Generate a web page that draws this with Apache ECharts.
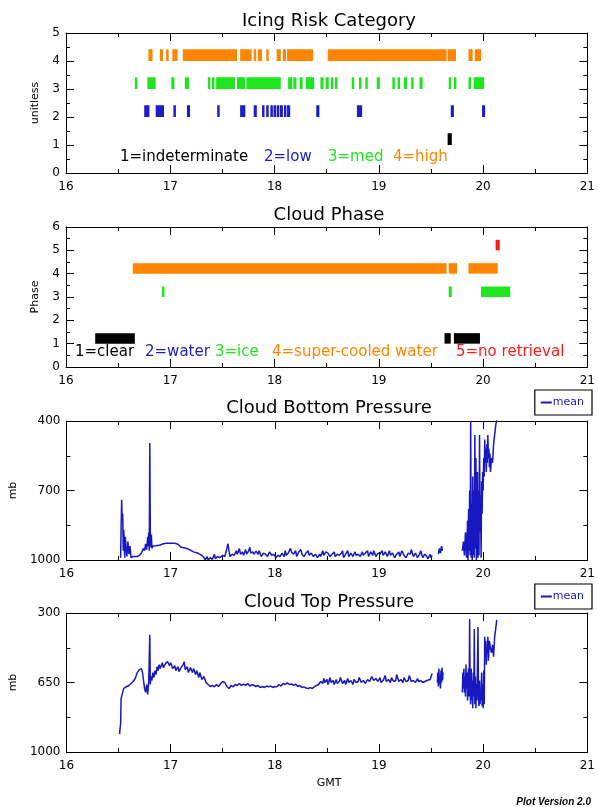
<!DOCTYPE html>
<html><head><meta charset="utf-8">
<script src="https://cdn.jsdelivr.net/npm/echarts@6/dist/echarts.min.js"></script>
<style>html,body{margin:0;padding:0;background:#fff}#c{width:598px;height:807px}</style>
</head><body><div id="c"></div>
<script>
// ---------- DATA ----------
const timeRange = [16, 21];
const riskLevels = [1, 2, 3, 4];
const riskIndeterminate = [[19.66,19.70]];
const riskLow = [[16.75,16.80],[16.86,16.94],[17.03,17.05],[17.16,17.19],[17.45,17.47],[17.67,17.72],[17.80,17.83],
  [17.88,17.90],[17.92,17.94],[17.96,17.98],[17.99,18.01],[18.02,18.04],[18.05,18.08],[18.09,18.11],[18.12,18.15],
  [18.40,18.43],[18.79,18.84],[19.69,19.72],[19.99,20.02]];
const riskMed = [[16.66,16.68],[16.78,16.86],[17.01,17.04],[17.14,17.18],[17.36,17.38],[17.40,17.42],[17.44,17.62],
  [17.64,17.72],[17.73,18.06],[18.13,18.17],[18.18,18.21],[18.24,18.27],[18.30,18.38],[18.44,18.47],[18.49,18.52],
  [18.54,18.56],[18.58,18.60],[18.74,18.76],[18.81,18.83],[18.87,18.89],[18.98,19.01],[19.13,19.15],[19.18,19.20],
  [19.24,19.27],[19.31,19.33],[19.39,19.42],[19.67,19.69],[19.72,19.74],[19.86,19.88],[19.91,20.01]];
const riskHigh = [[16.79,16.83],[16.90,16.93],[16.96,16.98],[17.02,17.07],[17.12,17.64],[17.67,17.78],[17.80,17.82],
  [17.84,17.88],[17.92,17.94],[18.02,18.06],[18.08,18.11],[18.12,18.37],[18.51,19.65],[19.66,19.74],[19.86,19.90],[19.92,19.98]];
const riskLegend = [
  {text: '1=indeterminate', x: 120, color: 'black'},
  {text: '2=low', x: 264, color: 'blue'},
  {text: '3=med', x: 328, color: 'green'},
  {text: '4=high', x: 393, color: 'orange'}
];

const phaseClear = [[16.28,16.66],[19.63,19.69],[19.72,19.97]];
const phaseWater = [];
const phaseIce = [[16.92,16.94],[19.67,19.70],[19.98,20.26]];
const phaseSupercooled = [[16.64,19.65],[19.67,19.75],[19.86,20.14]];
const phaseNoRetrieval = [[20.12,20.16]];
const phaseLegend = [
  {text: '1=clear', x: 75, color: 'black'},
  {text: '2=water', x: 145, color: 'blue'},
  {text: '3=ice', x: 215, color: 'green'},
  {text: '4=super-cooled water', x: 272, color: 'orange'},
  {text: '5=no retrieval', x: 456, color: 'red'}
];

const bottomPressure = [
 [16.52,990],[16.525,860],[16.53,740],[16.535,830],[16.54,800],[16.545,960],[16.55,870],[16.56,990],[16.565,900],[16.57,930],
 [16.58,985],[16.59,920],[16.60,975],[16.61,940],[16.62,990],[16.64,985],[16.66,985],[16.68,985],[16.70,980],[16.72,970],
 [16.74,950],[16.75,960],[16.76,930],[16.77,955],[16.78,900],[16.785,940],[16.79,880],[16.795,960],[16.80,495],[16.805,880],
 [16.81,945],[16.815,890],[16.82,950],[16.83,940],[16.86,938],[16.90,935],[16.93,930],[16.96,928],[17.00,928],[17.04,928],
 [17.07,932],[17.10,945],[17.14,948],[17.18,955],[17.22,965],[17.26,970],[17.30,980],[17.32,990],[17.33,1000],[17.35,985],
 [17.36,1000],[17.38,990],[17.40,998],[17.42,975],[17.43,995],[17.45,985],[17.47,990],[17.50,980],[17.52,985],[17.54,950],
 [17.55,930],[17.56,960],[17.57,985],[17.59,975],[17.61,980],[17.63,960],[17.64,975],[17.66,950],[17.67,975],[17.69,965],
 [17.70,980],[17.72,955],[17.73,975],[17.75,960],[17.76,945],[17.77,970],[17.79,965],[17.80,975],[17.82,962],[17.84,975],
 [17.85,960],[17.87,985],[17.89,970],[17.91,975],[17.93,985],[17.95,965],[17.97,980],[17.99,975],[18.01,990],[18.03,980],
 [18.05,985],[18.07,970],[18.09,985],[18.10,960],[18.11,980],[18.13,970],[18.15,950],[18.16,965],[18.18,975],[18.20,960],
 [18.21,985],[18.23,965],[18.25,955],[18.26,975],[18.28,985],[18.30,970],[18.32,960],[18.33,980],[18.35,970],[18.37,985],
 [18.39,975],[18.41,990],[18.43,975],[18.44,985],[18.46,960],[18.47,980],[18.49,965],[18.51,970],[18.53,985],[18.55,975],
 [18.57,965],[18.58,985],[18.60,975],[18.62,980],[18.64,970],[18.65,960],[18.66,990],[18.68,975],[18.70,960],[18.71,985],
 [18.73,970],[18.75,985],[18.77,965],[18.78,980],[18.80,975],[18.82,985],[18.84,965],[18.85,980],[18.87,970],[18.89,960],
 [18.90,985],[18.92,965],[18.94,980],[18.95,960],[18.97,985],[18.99,970],[19.01,975],[19.03,960],[19.04,980],[19.06,965],
 [19.08,985],[19.10,960],[19.11,980],[19.13,970],[19.15,990],[19.17,975],[19.19,965],[19.20,985],[19.22,960],[19.24,980],
 [19.26,990],[19.28,970],[19.30,975],[19.31,955],[19.33,985],[19.35,970],[19.37,990],[19.39,975],[19.40,960],[19.42,990],
 [19.44,975],[19.46,985],[19.47,995],[19.49,975],[19.50,990],[19.51,980],[19.54,null],
 [19.57,975],[19.58,950],[19.59,970],[19.60,940],[19.61,960],[19.70,null],
 [19.80,960],[19.81,920],[19.82,980],[19.83,880],[19.84,990],[19.85,830],[19.855,1000],[19.86,780],[19.865,960],[19.87,700],
 [19.875,980],[19.88,400],[19.885,990],[19.89,760],[19.895,1000],[19.90,640],[19.905,980],[19.91,700],[19.915,990],[19.92,460],
 [19.925,950],[19.93,560],[19.935,1000],[19.94,900],[19.945,620],[19.95,990],[19.955,700],[19.96,980],[19.965,460],[19.97,880],
 [19.975,720],[19.98,990],[19.985,660],[19.99,800],[19.995,620],[20.00,700],[20.005,560],[20.01,640],[20.015,480],[20.02,580],
 [20.025,520],[20.03,620],[20.035,500],[20.04,580],[20.045,460],[20.05,560],[20.055,520],[20.06,600],[20.065,540],[20.07,620],
 [20.08,560],[20.09,580],[20.10,500],[20.11,460],[20.12,420],[20.13,390]
];

const topPressure = [
 [16.51,910],[16.515,880],[16.52,860],[16.525,730],[16.53,720],[16.54,700],[16.55,680],[16.56,690],[16.58,670],[16.60,665],
 [16.62,655],[16.64,645],[16.66,630],[16.68,600],[16.70,585],[16.72,580],[16.73,600],[16.74,640],[16.75,680],[16.76,700],
 [16.77,660],[16.78,710],[16.79,640],[16.80,410],[16.805,660],[16.81,620],[16.82,640],[16.83,600],[16.84,625],[16.85,590],
 [16.86,610],[16.87,570],[16.88,590],[16.89,560],[16.90,580],[16.92,550],[16.93,575],[16.95,555],[16.97,545],[16.99,565],
 [17.00,550],[17.02,580],[17.04,565],[17.05,590],[17.07,570],[17.08,595],[17.10,575],[17.12,560],[17.13,545],[17.14,585],
 [17.16,570],[17.17,600],[17.19,575],[17.21,600],[17.22,580],[17.24,610],[17.25,590],[17.27,625],[17.28,600],[17.30,635],
 [17.32,620],[17.34,650],[17.36,660],[17.38,670],[17.40,665],[17.42,672],[17.44,660],[17.46,670],[17.48,655],[17.50,645],
 [17.52,650],[17.54,670],[17.56,680],[17.58,665],[17.60,672],[17.62,660],[17.64,665],[17.66,655],[17.68,665],[17.70,658],
 [17.72,665],[17.74,655],[17.76,668],[17.78,660],[17.80,665],[17.82,670],[17.84,665],[17.86,675],[17.88,670],[17.90,675],
 [17.92,668],[17.94,672],[17.96,668],[17.98,675],[18.00,670],[18.02,672],[18.04,660],[18.06,668],[18.08,655],[18.10,660],
 [18.12,652],[18.14,660],[18.16,658],[18.18,665],[18.20,658],[18.22,670],[18.24,665],[18.26,675],[18.28,672],[18.30,678],
 [18.32,680],[18.34,676],[18.36,680],[18.38,672],[18.40,665],[18.42,660],[18.44,645],[18.46,655],[18.47,630],[18.48,650],
 [18.50,635],[18.51,660],[18.53,625],[18.54,650],[18.56,640],[18.57,660],[18.59,635],[18.60,655],[18.62,645],[18.63,625],
 [18.65,655],[18.67,640],[18.68,660],[18.70,630],[18.71,650],[18.73,640],[18.75,660],[18.76,635],[18.78,650],[18.80,645],
 [18.81,625],[18.83,650],[18.85,640],[18.87,655],[18.89,635],[18.91,645],[18.93,620],[18.95,640],[18.97,630],[18.99,645],
 [19.01,625],[19.02,650],[19.04,640],[19.06,615],[19.07,645],[19.09,635],[19.11,650],[19.12,625],[19.14,645],[19.16,640],
 [19.17,610],[19.19,645],[19.21,635],[19.23,650],[19.24,625],[19.26,645],[19.28,640],[19.29,615],[19.31,645],[19.33,640],
 [19.35,650],[19.37,630],[19.38,645],[19.40,640],[19.42,650],[19.44,645],[19.46,640],[19.47,650],[19.49,635],[19.50,620],
 [19.51,605],[19.54,null],
 [19.56,650],[19.565,600],[19.57,670],[19.575,580],[19.58,660],[19.585,620],[19.59,680],[19.595,590],[19.60,650],[19.605,575],
 [19.61,640],[19.615,600],[19.70,null],
 [19.80,700],[19.805,600],[19.81,680],[19.815,580],[19.82,700],[19.825,620],[19.83,720],[19.835,560],[19.84,680],[19.845,600],
 [19.85,740],[19.855,620],[19.86,580],[19.865,720],[19.87,330],[19.875,700],[19.88,760],[19.885,580],[19.89,740],[19.895,640],
 [19.90,780],[19.905,600],[19.91,720],[19.915,380],[19.92,760],[19.925,620],[19.93,780],[19.935,660],[19.94,740],[19.945,580],
 [19.95,370],[19.955,720],[19.96,770],[19.965,640],[19.97,760],[19.975,680],[19.98,740],[19.985,600],[19.99,770],[19.995,660],
 [20.00,780],[20.005,590],[20.01,760],[20.015,420],[20.02,520],[20.025,440],[20.03,560],[20.035,470],[20.04,500],[20.045,420],
 [20.05,540],[20.06,440],[20.07,480],[20.08,500],[20.09,460],[20.10,520],[20.11,420],[20.12,380],[20.13,335]
];

const bottomLabels = [400, 700, 1000];
const bottomMinorTicks = [550, 850];
const topLabels = [300, 650, 1000];
const topMinorTicks = [475, 825];

// ---------- STYLE ----------
const C = {black:'#000000', blue:'#1c1cc8', green:'#1ee61e', orange:'#ff8500', red:'#ff1a1a', line:'#1818c0'};
const FONT = 'DejaVu Sans';
const GL = 66, GW = 526;
const grids = [
  {left: GL, width: GW, top: 33, height: 140},
  {left: GL, width: GW, top: 227, height: 140},
  {left: GL, width: GW, top: 421, height: 139},
  {left: GL, width: GW, top: 613, height: 139}
];
const BLACK_LINE = {color: '#000', width: 1};

function xAxes(gi) {
  const base = {gridIndex: gi, type: 'value', min: timeRange[0], max: timeRange[1], interval: 1,
    axisLine: {show: true, onZero: false, lineStyle: BLACK_LINE},
    axisTick: {inside: true, length: 8, lineStyle: BLACK_LINE},
    minorTick: {show: true, splitNumber: 2, length: 4, lineStyle: BLACK_LINE},
    splitLine: {show: false}, minorSplitLine: {show: false}};
  return [
    Object.assign({}, base, {position: 'bottom', axisLabel: {color: '#000', fontSize: 12, fontFamily: FONT, margin: 8}}),
    Object.assign({}, base, {position: 'top', axisLabel: {show: false}})
  ];
}
function yAxesSimple(gi, min, max, name, nameGap) {
  const base = {gridIndex: gi, type: 'value', min: min, max: max, interval: 1,
    axisLine: {show: true, onZero: false, lineStyle: BLACK_LINE},
    axisTick: {inside: true, length: 8, lineStyle: BLACK_LINE},
    minorTick: {show: true, splitNumber: 2, length: 4, lineStyle: BLACK_LINE},
    splitLine: {show: false}, minorSplitLine: {show: false}};
  return [
    Object.assign({}, base, {position: 'left', name: name, nameLocation: 'middle', nameGap: nameGap, nameRotate: 90,
      nameTextStyle: {color: '#000', fontSize: 11, fontFamily: FONT},
      axisLabel: {color: '#000', fontSize: 12, fontFamily: FONT, margin: 6}}),
    Object.assign({}, base, {position: 'right', axisLabel: {show: false}})
  ];
}
function yAxesPressure(gi, min, max, labels, minor, name, nameGap) {
  const base = {gridIndex: gi, type: 'value', min: min, max: max, inverse: true, splitLine: {show: false}};
  const major = Object.assign({}, base, {
    axisLine: {show: true, onZero: false, lineStyle: BLACK_LINE},
    axisTick: {inside: true, length: 8, customValues: labels, lineStyle: BLACK_LINE}});
  const minorAx = Object.assign({}, base, {
    axisLine: {show: false},
    axisTick: {inside: true, length: 4, customValues: minor, lineStyle: BLACK_LINE},
    axisLabel: {show: false}});
  return [
    Object.assign({}, major, {position: 'left', name: name, nameLocation: 'middle', nameGap: nameGap, nameRotate: 90,
      nameTextStyle: {color: '#000', fontSize: 11, fontFamily: FONT},
      axisLabel: {color: '#000', fontSize: 12, fontFamily: FONT, margin: 6, customValues: labels, formatter: v => String(v)}}),
    Object.assign({}, major, {position: 'right', axisLabel: {show: false}}),
    Object.assign({}, minorAx, {position: 'left'}),
    Object.assign({}, minorAx, {position: 'right'})
  ];
}

const yA = [].concat(
  yAxesSimple(0, 0, 5, 'unitless', 25),
  yAxesSimple(1, 0, 6, 'Phase', 25),
  yAxesPressure(2, 400, 1000, bottomLabels, bottomMinorTicks, 'mb', 45),
  yAxesPressure(3, 300, 1000, topLabels, topMinorTicks, 'mb', 45)
);
const mainY = [0, 2, 4, 8];
const xA = [].concat(xAxes(0), xAxes(1), xAxes(2), xAxes(3));

function barSeries(gi, data, level, h, color) {
  return {
    type: 'custom', xAxisIndex: gi * 2, yAxisIndex: mainY[gi], silent: true,
    data: data.map(d => [d[0], d[1], level]),
    encode: {x: [0, 1], y: 2},
    renderItem: function (params, api) {
      const p0 = api.coord([api.value(0), api.value(2)]);
      const p1 = api.coord([api.value(1), api.value(2) + h]);
      return {type: 'rect', shape: {x: p0[0], y: p1[1], width: Math.max(p1[0] - p0[0], 2.5), height: p0[1] - p1[1]},
        style: {fill: color}};
    }
  };
}
function lineSeries(gi, data) {
  return {type: 'line', name: 'mean', xAxisIndex: gi * 2, yAxisIndex: mainY[gi], data: data, showSymbol: false,
    connectNulls: false, clip: true, lineStyle: {color: C.line, width: 1.5}, itemStyle: {color: C.line}, silent: true};
}

const series = [
  barSeries(0, riskHigh, riskLevels[3], 0.42, C.orange),
  barSeries(0, riskMed, riskLevels[2], 0.42, C.green),
  barSeries(0, riskLow, riskLevels[1], 0.42, C.blue),
  barSeries(0, riskIndeterminate, riskLevels[0], 0.42, C.black),
  barSeries(1, phaseSupercooled, 4, 0.45, C.orange),
  barSeries(1, phaseIce, 3, 0.45, C.green),
  barSeries(1, phaseWater, 2, 0.45, C.blue),
  barSeries(1, phaseClear, 1, 0.45, C.black),
  barSeries(1, phaseNoRetrieval, 5, 0.45, C.red),
  lineSeries(2, bottomPressure),
  lineSeries(3, topPressure)
];

function legendBox(top) {
  return {data: ['mean'], right: 6, top: top, orient: 'horizontal', borderColor: '#000', borderWidth: 1.2,
    padding: [7, 8, 7, 6], itemWidth: 11, itemHeight: 2, icon: 'rect', itemGap: 2, selectedMode: false,
    textStyle: {color: C.line, fontSize: 11, fontFamily: FONT, padding: [0, 0, 0, -4]}};
}
function titleText(y, text) {
  return {type: 'text', x: GL + GW / 2, y: y, style: {text: text, fill: '#000', font: '18px "' + FONT + '"',
    textAlign: 'center', textVerticalAlign: 'middle'}};
}
function keyTexts(items, y) {
  return items.map(it => ({type: 'text', x: it.x, y: y, style: {text: it.text, fill: C[it.color],
    font: '15px "' + FONT + '"', textAlign: 'left', textVerticalAlign: 'middle'}}));
}

const chart = echarts.init(document.getElementById('c'), null, {renderer: 'canvas'});
chart.setOption({
  animation: false,
  backgroundColor: '#fff',
  grid: grids,
  xAxis: xA,
  yAxis: yA,
  legend: [legendBox(390), legendBox(584)],
  series: series,
  graphic: [].concat(
    [titleText(21, 'Icing Risk Category'),
     titleText(215, 'Cloud Phase'),
     titleText(408, 'Cloud Bottom Pressure'),
     titleText(602, 'Cloud Top Pressure')],
    keyTexts(riskLegend, 157),
    keyTexts(phaseLegend, 352),
    [{type: 'text', x: GL + GW / 2, y: 783, style: {text: 'GMT', fill: '#000', font: '11px "' + FONT + '"', textAlign: 'center', textVerticalAlign: 'middle'}},
     {type: 'text', x: 591, y: 802, style: {text: 'Plot Version 2.0', fill: '#000', font: 'italic bold 10px "Liberation Sans"', textAlign: 'right', textVerticalAlign: 'middle'}}]
  )
});
</script>
</body></html>
